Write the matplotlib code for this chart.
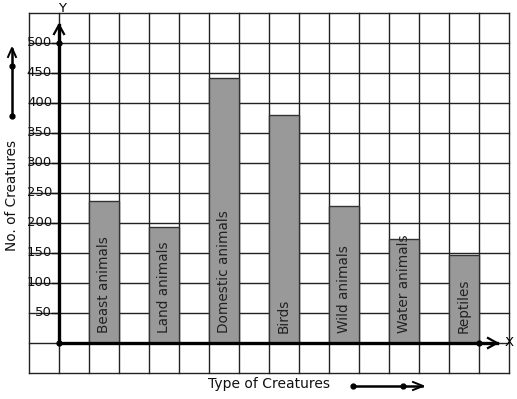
import matplotlib
matplotlib.use("Agg")
from matplotlib import pyplot as plt
import numpy as np

categories = ["Beast animals", "Land animals", "Domestic animals", "Birds",
              "Wild animals", "Water animals", "Reptiles"]
values = [236, 193, 441, 380, 228, 173, 146]
bar_left = [1, 3, 5, 7, 9, 11, 13]
yticks = [50, 100, 150, 200, 250, 300, 350, 400, 450, 500]

# pixel -> data helpers (origin at px (59, 343), 30 px per cell, 50 units per cell)
def px(x):
    return (x - 59) / 30.0

def py(y):
    return (343 - y) * 50 / 30.0

fig = plt.figure(figsize=(5.17, 3.99), dpi=100)
ax = fig.add_axes([0, 0, 1, 1])
ax.set_xlim(px(0), px(517))
ax.set_ylim(py(399), py(0))
ax.axis("off")

grid_c = "#222222"
for gx in range(-1, 16):
    ax.plot([gx, gx], [-50, 550], color=grid_c, lw=1.0, zorder=1)
for gy in range(-50, 551, 50):
    ax.plot([-1, 15], [gy, gy], color=grid_c, lw=1.0, zorder=1)

ax.bar(bar_left, values, width=1, align="edge", color="#999999",
       edgecolor="#333333", linewidth=1.0, zorder=2)
for xl, name in zip(bar_left, categories):
    ax.text(xl + 0.5, py(333), name, rotation=90, ha="center", va="bottom",
            fontsize=9.8, color="#222222", zorder=4)

# y tick labels
for t in yticks:
    ax.text(px(52), t, str(t), ha="right", va="center", fontsize=9.5,
            color="#111111", zorder=4)
    ax.plot([px(52), 0], [t, t], color="#111111", lw=1.0, zorder=3)

# axes with arrows
ax.plot([0, 0], [0, py(25)], color="black", lw=2.4, zorder=5)
ax.plot([px(54), 0, px(64)], [py(34), py(25), py(34)], color="black", lw=1.6, zorder=5)
ax.plot([0, px(497)], [0, 0], color="black", lw=2.4, zorder=5)
ax.plot([px(488), px(497), px(488)], [py(338), py(343), py(348)], color="black", lw=1.6, zorder=5)
ax.plot([0, 0, px(479)], [0, 500, 0], "o", color="black", ms=3.5, zorder=6)
ax.text(px(62), py(9), "Y", ha="center", va="center", fontsize=9.5, zorder=6)
ax.text(px(509), py(343), "X", ha="center", va="center", fontsize=9.5, zorder=6)

# axis titles with arrows
ax.text(px(12), py(195), "No. of Creatures", rotation=90, ha="center", va="center",
        fontsize=9.8, color="#111111")
ax.plot([px(12), px(12)], [py(116), py(49)], color="black", lw=1.8)
ax.plot([px(8), px(12), px(16)], [py(57), py(48), py(57)], color="black", lw=1.4)
ax.plot([px(12), px(12)], [py(116), py(66)], "o", color="black", ms=3.5)

ax.text(px(269), py(384), "Type of Creatures", ha="center", va="center",
        fontsize=10, color="#111111")
ax.plot([px(353), px(422)], [py(386), py(386)], color="black", lw=1.8)
ax.plot([px(413), px(423), px(413)], [py(382), py(386), py(390)], color="black", lw=1.4)
ax.plot([px(353), px(403)], [py(386), py(386)], "o", color="black", ms=3.5)

fig.savefig("out.png", dpi=100)
